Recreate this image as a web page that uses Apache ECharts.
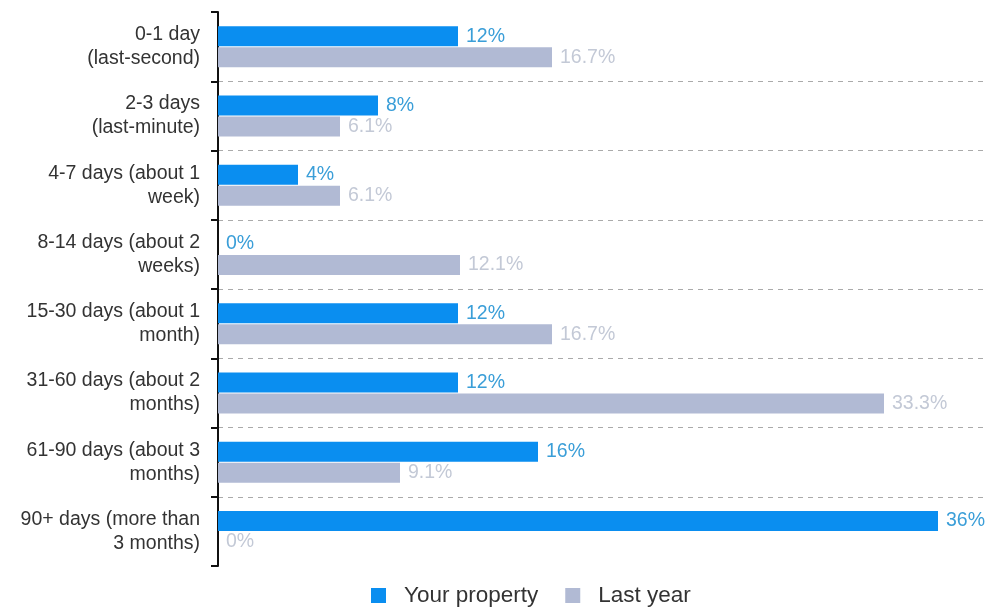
<!DOCTYPE html>
<html>
<head>
<meta charset="utf-8">
<script src="https://cdn.jsdelivr.net/npm/echarts@6/dist/echarts.min.js"></script>
<style>html,body{margin:0;padding:0;background:#fff}#c{width:989px;height:610px}</style>
</head>
<body>
<div id="c"></div>
<script>
var categories = [
  "0-1 day\n(last-second)",
  "2-3 days\n(last-minute)",
  "4-7 days (about 1\nweek)",
  "8-14 days (about 2\nweeks)",
  "15-30 days (about 1\nmonth)",
  "31-60 days (about 2\nmonths)",
  "61-90 days (about 3\nmonths)",
  "90+ days (more than\n3 months)"
];
var yourProperty = [12, 8, 4, 0, 12, 12, 16, 36];
var lastYear = [16.7, 6.1, 6.1, 12.1, 16.7, 33.3, 9.1, 0];
var seriesNames = ["Your property", "Last year"];

var font = "'Liberation Sans', Arial, sans-serif";
var chart = echarts.init(document.getElementById('c'));
function lbl(color) {
  return {
    show: true, position: 'right', distance: 8,
    color: color, fontSize: 19.5, fontFamily: font,
    formatter: function (p) { return p.value + '%'; }
  };
}
chart.setOption({
  animation: false,
  grid: { left: 218, right: 1, top: 12, bottom: 44, containLabel: false },
  legend: {
    left: 366, top: 579,
    itemWidth: 15, itemHeight: 15, itemGap: 27,
    icon: 'rect',
    textStyle: { fontSize: 22.5, color: '#333', fontFamily: font, padding: [0, 0, 0, 13] },
    data: seriesNames
  },
  xAxis: {
    type: 'value', min: 0, max: 38.5,
    show: false, splitLine: { show: false }
  },
  yAxis: {
    type: 'category', inverse: true, data: categories,
    axisLine: { show: true, lineStyle: { color: '#111', width: 2 } },
    axisTick: { show: true, length: 7, lineStyle: { color: '#111', width: 2 } },
    axisLabel: { color: '#333', fontSize: 19.5, fontFamily: font, margin: 18, lineHeight: 24, align: 'right' },
    splitLine: { show: true, showMinLine: false, showMaxLine: false,
      lineStyle: { color: '#aaa', type: [5, 5], width: 1 } }
  },
  series: [
    { name: seriesNames[0], type: 'bar', data: yourProperty, barWidth: 20, barGap: '5%',
      itemStyle: { color: '#0a8ef0' }, label: lbl('#3a9ed8') },
    { name: seriesNames[1], type: 'bar', data: lastYear, barWidth: 20,
      itemStyle: { color: '#b1bad4' }, label: lbl('#c3c9d6') }
  ]
});
</script>
</body>
</html>
